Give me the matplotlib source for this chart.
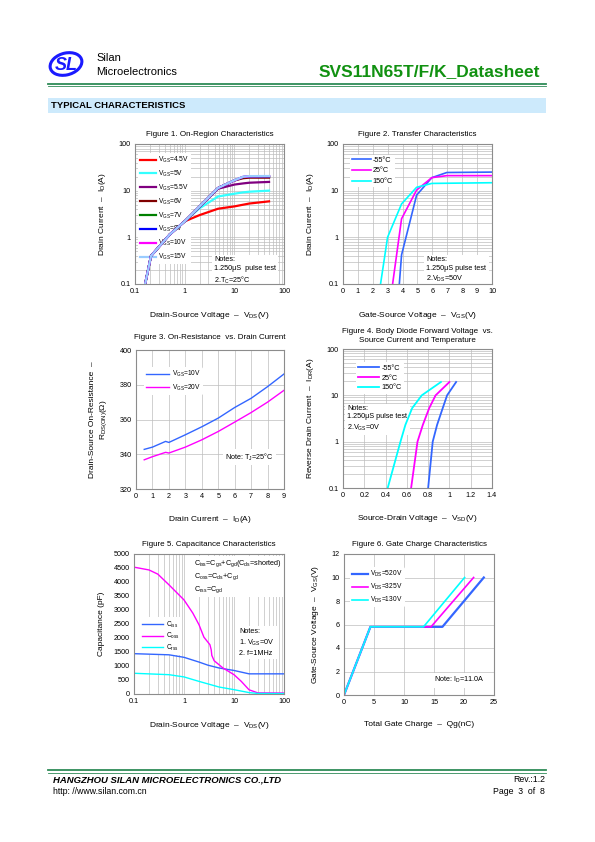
import numpy as np
import matplotlib
matplotlib.use("Agg")
import matplotlib.pyplot as plt
from matplotlib.patches import Ellipse, Rectangle
from matplotlib.lines import Line2D

plt.rcParams['font.family'] = ['Liberation Sans', 'DejaVu Sans']
plt.rcParams['mathtext.fontset'] = 'custom'
plt.rcParams['mathtext.rm'] = 'Liberation Sans'
plt.rcParams['mathtext.it'] = 'Liberation Sans:italic'

# ---- Figure 1 data: on-region characteristics ----
f1_labels = ['4.5V', '5V', '5.5V', '6V', '7V', '8V', '10V', '15V']
f1_colors = ['#ff0000', '#33ffff', '#800080', '#800000', '#008000', '#0000ff', '#ff00ff', '#99ccff']
f1_vds_common = [0.16, 0.21, 0.5, 1.0]
f1_id_common = [0.1, 0.4, 1.15, 2.2]
f1_vds_tail = [2, 4.7, 10, 15, 20, 50]
f1_id_tail = {
    '4.5V': [3.0, 4.1, 4.6, 5.0, 5.3, 5.9],
    '5V': [4.2, 7.5, 8.6, 9.2, 9.5, 10.0],
    '5.5V': [4.5, 11.0, 13.5, 14.3, 14.8, 15.4],
    '6V': [4.6, 11.4, 16.5, 18.5, 19.0, 19.0],
    '7V': [4.6, 11.4, 16.6, 19.5, 20.0, 20.0],
    '8V': [4.6, 11.4, 16.6, 19.7, 20.2, 20.3],
    '10V': [4.6, 11.4, 16.6, 19.7, 20.3, 20.4],
    '15V': [4.6, 11.4, 16.7, 19.9, 20.5, 20.6],
}

# ---- Figure 2 data: transfer characteristics ----
f2_labels = ['-55°C', '25°C', '150°C']
f2_colors = ['#3366ff', '#ff00ff', '#00ffff']
f2_vgs = {
    '-55°C': [3.78, 3.93, 4.94, 5.96, 6.97, 10],
    '25°C': [3.33, 3.93, 4.94, 5.96, 6.97, 10],
    '150°C': [2.52, 2.99, 3.93, 4.94, 5.96, 10],
}
f2_id = {
    '-55°C': [0.1, 0.42, 8.0, 19.0, 24.5, 25.0],
    '25°C': [0.1, 2.5, 10.3, 19.0, 21.0, 21.0],
    '150°C': [0.1, 1.0, 5.2, 11.8, 14.3, 14.8],
}

# ---- Figure 3 data: on-resistance vs drain current ----
f3_id = [0.5, 1, 1.8, 2, 3, 4, 5, 6, 7, 8, 9]
f3_r10 = [342.8, 344.1, 347.4, 346.8, 351.2, 355.8, 360.8, 366.9, 372.2, 378.9, 386.2]
f3_r20 = [336.8, 338.6, 341.1, 340.7, 344.1, 348.3, 353.1, 358.5, 364.0, 370.0, 376.8]

# ---- Figure 4 data: body diode forward voltage ----
f4_isd = [0.1, 1, 2.3, 5.3, 10, 19.4]
f4_vsd = {
    '-55°C': [0.80, 0.843, 0.884, 0.937, 0.978, 1.063],
    '25°C': [0.64, 0.70, 0.75, 0.81, 0.87, 1.00],
    '150°C': [0.42, 0.54, 0.586, 0.65, 0.74, 0.92],
}

# ---- Figure 5 data: capacitance ----
f5_vds_ciss = [0.1, 0.5, 1, 2, 3, 5, 10, 20, 30, 100]
f5_ciss = [1440, 1400, 1310, 1140, 1030, 930, 840, 720, 720, 720]
f5_vds_coss = [0.1, 0.2, 0.3, 0.5, 1, 1.5, 2, 2.5, 3.3, 3.5, 3.6, 4, 6, 10, 14, 20, 30, 100]
f5_coss = [4530, 4430, 4280, 3900, 3360, 2890, 2470, 2030, 1760, 1580, 1380, 1190, 930, 690, 450, 150, 40, 35]
f5_vds_crss = [0.1, 0.5, 1, 2, 5, 10, 20, 30, 100]
f5_crss = [740, 690, 610, 450, 250, 155, 50, 20, 15]

# ---- Figure 6 data: gate charge ----
f6_labels = ['520V', '325V', '130V']
f6_colors = ['#3366ff', '#ff00ff', '#00ffff']
f6_qg = {
    '520V': [0, 4.4, 16.4, 23.3],
    '325V': [0, 4.4, 14.5, 21.6],
    '130V': [0, 4.4, 13.25, 20.1],
}
f6_vgs = [0, 5.8, 5.8, 10]

W, H = 595, 842
fig = plt.figure(figsize=(W / 100, H / 100), dpi=100)

GRID = '#bdbdbd'
SPINE = '#8c8c8c'
FS = 5.2


def px(x, y):
    return x / W, 1 - y / H


def ax_at(l, t, r, b):
    ax = fig.add_axes([l / W, 1 - b / H, (r - l) / W, (b - t) / H])
    for s in ax.spines.values():
        s.set_color(SPINE)
        s.set_linewidth(0.8)
    ax.tick_params(length=0, labelsize=FS, pad=3)
    ax.set_axisbelow(True)
    return ax


def log_ticks(ax, axis, lo, hi):
    vals = [0.1, 1, 10, 100]
    labs = ['0.1', '1', '10', '100']
    if axis == 'x':
        ax.set_xscale('log')
        ax.set_xlim(lo, hi)
        ax.set_xticks(vals, labs)
        ax.xaxis.set_minor_formatter(plt.NullFormatter())
    else:
        ax.set_yscale('log')
        ax.set_ylim(lo, hi)
        ax.set_yticks(vals, labs)
        ax.yaxis.set_minor_formatter(plt.NullFormatter())
    ax.tick_params(which='minor', length=0)


def legend(ax, anchor, fs, **kw):
    # white box, no border, kept under the curves
    leg = ax.legend(loc='upper left', bbox_to_anchor=anchor, fontsize=fs, frameon=True,
                    borderpad=0.3, **kw)
    leg.get_frame().set_edgecolor('none')
    leg.get_frame().set_alpha(1)
    leg.set_zorder(1.5)
    return leg


def note(ax, x, y, s, ha='left'):
    ax.text(x, y, s, transform=ax.transAxes, fontsize=FS, ha=ha, va='top', linespacing=1.35,
            bbox=dict(facecolor='white', edgecolor='none', pad=1.5), zorder=1.5)


# ---------------- header ----------------
logo = Ellipse(px(66, 64), 32 / W, 22 / H, angle=8, transform=fig.transFigure,
               facecolor='none', edgecolor='#1a1aff', lw=2.2)
fig.patches.append(logo)
fig.text(*px(66, 65), 'SL', fontsize=13, fontweight='bold', style='italic', color='#1a1aff',
         ha='center', va='center')
fig.text(*px(96, 58), 'Silan', fontsize=8, ha='left', va='center')
fig.text(*px(96, 72), 'Microelectronics', fontsize=8, ha='left', va='center')
fig.text(*px(540, 72), 'SVS11N65T/F/K_Datasheet', fontsize=12.5, fontweight='bold',
         color='#119111', ha='right', va='center')
fig.add_artist(Line2D([48 / W, 546 / W], [1 - 83.5 / H, 1 - 83.5 / H], color='#2e8b57', lw=1.3))
fig.add_artist(Line2D([48 / W, 546 / W], [1 - 86 / H, 1 - 86 / H], color='#2e8b57', lw=0.6))
fig.patches.append(Rectangle(px(48, 113), 498 / W, 15 / H, transform=fig.transFigure,
                             facecolor='#cdeafc', edgecolor='none'))
fig.text(*px(51, 106), 'TYPICAL CHARACTERISTICS', fontsize=6.8, fontweight='bold', ha='left', va='center')

# ---------------- Figure 1 ----------------
ax1 = ax_at(135, 144, 284, 284)
for lab, c in zip(f1_labels, f1_colors):
    x = f1_vds_common + f1_vds_tail
    y = f1_id_common + f1_id_tail[lab]
    ax1.plot(x, y, color=c, lw=1.6, label='V$_\\mathrm{GS}$=' + lab)
log_ticks(ax1, 'x', 0.1, 100)
log_ticks(ax1, 'y', 0.1, 100)
ax1.grid(True, which='both', color=GRID, lw=0.5)
legend(ax1, (0.0, 0.96), FS - 0.4, handlelength=2.4, handletextpad=0.3, labelspacing=0.55)
note(ax1, 0.53, 0.2, 'Notes:\n1.250μS  pulse test\n2.T$_\\mathrm{C}$=25°C')
ax1.set_title('Figure 1. On-Region Characteristics', fontsize=5.8, pad=6)
ax1.set_xlabel('Drain-Source Voltage  –  V$_\\mathrm{DS}$(V)', fontsize=6, labelpad=11)
ax1.set_ylabel('Drain Current  –  I$_\\mathrm{D}$(A)', fontsize=6, labelpad=8)

# ---------------- Figure 2 ----------------
ax2 = ax_at(343, 144, 492, 284)
for lab, c in zip(f2_labels, f2_colors):
    ax2.plot(f2_vgs[lab], f2_id[lab], color=c, lw=1.2, label=lab)
log_ticks(ax2, 'y', 0.1, 100)
ax2.set_xlim(0, 10)
ax2.set_xticks(range(0, 11))
ax2.grid(True, which='both', axis='y', color=GRID, lw=0.5)
ax2.grid(True, which='major', axis='x', color=GRID, lw=0.5)
legend(ax2, (0.02, 0.95), FS, handlelength=2.6, handletextpad=0.3, labelspacing=0.5)
note(ax2, 0.56, 0.2, 'Notes:\n1.250μS pulse test\n2.V$_\\mathrm{DS}$=50V')
ax2.set_title('Figure 2. Transfer Characteristics', fontsize=5.8, pad=6)
ax2.set_xlabel('Gate-Source Voltage  –  V$_\\mathrm{GS}$(V)', fontsize=6, labelpad=11)
ax2.set_ylabel('Drain Current  –  I$_\\mathrm{D}$(A)', fontsize=6, labelpad=8)

# ---------------- Figure 3 ----------------
ax3 = ax_at(136, 350, 284, 489)
ax3.plot(f3_id, f3_r10, color='#3366ff', lw=1.0, label='V$_\\mathrm{GS}$=10V')
ax3.plot(f3_id, f3_r20, color='#ff00ff', lw=1.0, label='V$_\\mathrm{GS}$=20V')
ax3.set_xlim(0, 9)
ax3.set_ylim(320, 400)
ax3.set_xticks(range(0, 10))
ax3.set_yticks(range(320, 401, 20))
ax3.grid(True, color=GRID, lw=0.5)
legend(ax3, (0.03, 0.9), FS - 0.4, handlelength=3.5, handletextpad=0.4, labelspacing=0.5)
note(ax3, 0.6, 0.27, 'Note: T$_\\mathrm{J}$=25°C')
ax3.set_title('Figure 3. On-Resistance  vs. Drain Current', fontsize=5.8, pad=8)
ax3.set_xlabel('Drain Current  –  I$_\\mathrm{D}$(A)', fontsize=6, labelpad=10)
ax3.set_ylabel('Drain-Source On-Resistance  –\nR$_\\mathrm{DS(ON)}$(Ω)', fontsize=6, labelpad=8)

# ---------------- Figure 4 ----------------
ax4 = ax_at(343, 349, 492, 488)
for lab, c in zip(f2_labels, f2_colors):
    ax4.plot(f4_vsd[lab], f4_isd, color=c, lw=1.3, label=lab)
log_ticks(ax4, 'y', 0.1, 100)
ax4.set_xlim(0, 1.4)
ax4.set_xticks(np.arange(0, 1.41, 0.2), ['0', '0.2', '0.4', '0.6', '0.8', '1', '1.2', '1.4'])
ax4.grid(True, which='both', axis='y', color=GRID, lw=0.5)
ax4.grid(True, which='major', axis='x', color=GRID, lw=0.5)
legend(ax4, (0.06, 0.93), FS, handlelength=3.0, handletextpad=0.3, labelspacing=0.4)
note(ax4, 0.03, 0.6, 'Notes:\n1.250μS pulse test\n2.V$_\\mathrm{GS}$=0V')
ax4.set_title('Figure 4. Body Diode Forward Voltage  vs.\nSource Current and Temperature',
              fontsize=5.8, pad=5, linespacing=1.5)
ax4.set_xlabel('Source-Drain Voltage  –  V$_\\mathrm{SD}$(V)', fontsize=6, labelpad=10)
ax4.set_ylabel('Reverse Drain Current  –  I$_\\mathrm{DR}$(A)', fontsize=6, labelpad=8)

# ---------------- Figure 5 ----------------
ax5 = ax_at(134, 554, 284, 694)
ax5.plot(f5_vds_ciss, f5_ciss, color='#3366ff', lw=1.0, label='C$_\\mathrm{iss}$')
ax5.plot(f5_vds_coss, f5_coss, color='#ff00ff', lw=1.0, label='C$_\\mathrm{oss}$')
ax5.plot(f5_vds_crss, f5_crss, color='#00ffff', lw=1.0, label='C$_\\mathrm{rss}$')
log_ticks(ax5, 'x', 0.1, 100)
ax5.set_ylim(0, 5000)
ax5.set_yticks(range(0, 5001, 500))
ax5.grid(True, which='both', axis='x', color=GRID, lw=0.5)
legend(ax5, (0.02, 0.57), FS - 0.5, handlelength=3.2, handletextpad=0.4, labelspacing=0.2)
note(ax5, 0.4, 0.97, 'C$_\\mathrm{iss}$=C$_\\mathrm{gs}$+C$_\\mathrm{gd}$(C$_\\mathrm{ds}$=shorted)\n'
     'C$_\\mathrm{oss}$=C$_\\mathrm{ds}$+C$_\\mathrm{gd}$\nC$_\\mathrm{rss}$=C$_\\mathrm{gd}$')
note(ax5, 0.7, 0.47, 'Notes:\n1. V$_\\mathrm{GS}$=0V\n2. f=1MHz')
ax5.set_title('Figure 5. Capacitance Characteristics', fontsize=5.8, pad=6)
ax5.set_xlabel('Drain-Source Voltage  –  V$_\\mathrm{DS}$(V)', fontsize=6, labelpad=11)
ax5.set_ylabel('Capacitance (pF)', fontsize=6, labelpad=6)

# ---------------- Figure 6 ----------------
ax6 = ax_at(344, 554, 494, 695)
for lab, c, lw in zip(f6_labels, f6_colors, [1.6, 1.2, 1.2]):
    ax6.plot(f6_qg[lab], f6_vgs, color=c, lw=lw, label='V$_\\mathrm{DS}$=' + lab)
ax6.set_xlim(0, 25)
ax6.set_ylim(0, 12)
ax6.set_xticks(range(0, 26, 5))
ax6.set_yticks(range(0, 13, 2))
ax6.grid(True, color=GRID, lw=0.5)
legend(ax6, (0.02, 0.93), FS - 0.4, handlelength=2.4, handletextpad=0.3, labelspacing=0.4)
note(ax6, 0.6, 0.14, 'Note: I$_\\mathrm{D}$=11.0A')
ax6.set_title('Figure 6. Gate Charge Characteristics', fontsize=5.8, pad=6)
ax6.set_xlabel('Total Gate Charge  –  Qg(nC)', fontsize=6, labelpad=11)
ax6.set_ylabel('Gate-Source Voltage  –  V$_\\mathrm{GS}$(V)', fontsize=6, labelpad=8)

# ---------------- footer ----------------
fig.add_artist(Line2D([48 / W, 546 / W], [1 - 770 / H, 1 - 770 / H], color='#2e8b57', lw=1.3))
fig.add_artist(Line2D([48 / W, 546 / W], [1 - 772.5 / H, 1 - 772.5 / H], color='#2e8b57', lw=0.6))
fig.text(*px(53, 780), 'HANGZHOU SILAN MICROELECTRONICS CO.,LTD', fontsize=6.8, fontweight='bold',
         style='italic', ha='left', va='center')
fig.text(*px(53, 791), 'http: //www.silan.com.cn', fontsize=6.3, ha='left', va='center')
fig.text(*px(545, 780), 'Rev.:1.2', fontsize=6.3, ha='right', va='center')
fig.text(*px(545, 791), 'Page  3  of  8', fontsize=6.3, ha='right', va='center')

fig.savefig('out.png', dpi=100)
